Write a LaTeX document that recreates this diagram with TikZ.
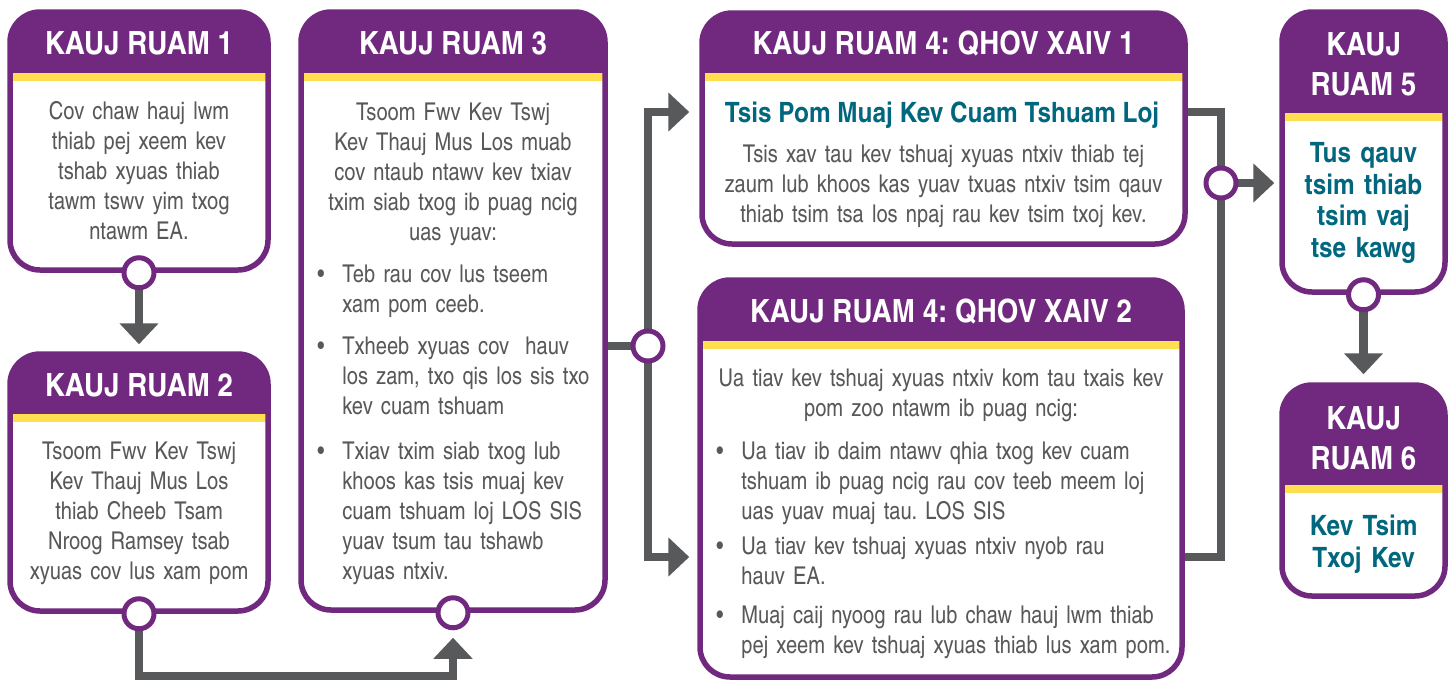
\documentclass[tikz,border=0pt]{standalone}
\usepackage{fontspec}
\setmainfont{texgyreheroscn}[Extension=.otf, UprightFont=*-regular, BoldFont=*-bold, ItalicFont=*-italic, BoldItalicFont=*-bolditalic, BoldFeatures={FakeStretch=1.06}]
\usetikzlibrary{arrows.meta,calc}
\definecolor{pur}{HTML}{71297F}
\definecolor{ylw}{HTML}{FFDE50}
\definecolor{tealtx}{HTML}{00677E}
\definecolor{txt}{HTML}{58585A}
\definecolor{con}{HTML}{58595B}
\pgfdeclarelayer{bg}
\pgfsetlayers{bg,main}
\tikzset{
  stepbox/.style={draw=pur, line width=2.75pt, rounded corners=15pt, fill=white, inner sep=0pt,
    path picture={
      \fill[pur, sharp corners] (path picture bounding box.north west) rectangle ($(path picture bounding box.north east)+(0,#1)$);
      \fill[ylw, sharp corners] ($(path picture bounding box.north west)+(0,#1)$) rectangle ($(path picture bounding box.north east)+(0,#1+8)$);
    }},
  dot/.style={circle, draw=pur, line width=2.5pt, fill=white, minimum size=15pt, inner sep=0pt},
  conn/.style={draw=con, line width=4.25pt},
  arr/.style={-{Triangle[width=19pt,length=10.5pt]}},
  hd/.style={font=\fontsize{16}{20}\selectfont\bfseries, text=white, inner sep=0pt},
  body/.style={font=\fontsize{12.25}{15}\selectfont, text=txt, inner sep=0pt, align=center},
  itm/.style={font=\fontsize{12.25}{15}\selectfont, text=txt, inner sep=0pt, align=left, anchor=north west},
  tl/.style={font=\fontsize{14}{15.75}\selectfont\bfseries, text=tealtx, inner sep=0pt, align=center},
}
\newcommand{\bul}{\llap{\textbullet\hspace{9pt}}}
\frenchspacing
\begin{document}
\begin{tikzpicture}[x=0.5pt,y=-0.5pt]
\useasboundingbox (0,0) rectangle (1450,681);
% boxes
\node[stepbox=61, minimum width=129pt, minimum height=129pt] (b1) at (139,141) {};
\node[stepbox=60, minimum width=129pt, minimum height=128.5pt] (b2) at (139,482.5) {};
\node[stepbox=61, minimum width=152pt, minimum height=299pt] (b3) at (453,311) {};
\node[stepbox=60, minimum width=241.5pt, minimum height=115.5pt] (b41) at (943.5,128.5) {};
\node[stepbox=61, minimum width=241pt, minimum height=198.5pt] (b42) at (941,478.5) {};
\node[stepbox=101, minimum width=81.5pt, minimum height=140pt] (b5) at (1363.5,152) {};
\node[stepbox=100, minimum width=81.5pt, minimum height=105.5pt] (b6) at (1363.5,490.5) {};
% circles
\node[dot] (c1) at (b1.south) {};
\node[dot] (c2) at (b2.south) {};
\node[dot] (c3) at (b3.south) {};
\node[dot] (cJ) at (648,346) {};
\node[dot] (cR) at (1221,183) {};
\node[dot] (c5) at (b5.south) {};
\path (0,112) coordinate (ytop) (0,557) coordinate (ybot) (0,676) coordinate (ylow);
% connectors
\begin{pgfonlayer}{bg}
\draw[conn,arr,shorten >=3.5pt] (c1.center) -- (b2.north);
\draw[conn,arr,shorten >=12.5pt] (c2.center) -- (c2.center |- ylow) -| (c3.center);
\draw[conn] (b3.east |- cJ) -- (cJ.center);
\draw[conn,arr,shorten >=5pt] (cJ.center) |- (b41.west |- ytop);
\draw[conn,arr,shorten >=4pt] (cJ.center) |- (b42.west |- ybot);
\draw[conn] (b41.east |- ytop) -| (cR.center) |- (b42.east |- ybot);
\draw[conn,arr,shorten >=2.5pt] (cR.center) -- (b5.west |- cR);
\draw[conn,arr,shorten >=4pt] (c5.center) -- (b6.north);
\end{pgfonlayer}
% headers
\node[hd, anchor=base] (h1) at (139,54) {KAUJ RUAM 1};
\node[hd, anchor=base] (h2) at (139,396) {KAUJ RUAM 2};
\node[hd, anchor=base] (h3) at (453,54) {KAUJ RUAM 3};
\node[hd, anchor=base] (h41) at (943.5,54) {KAUJ RUAM 4: QHOV XAIV 1};
\node[hd, anchor=base] (h42) at (941,322) {KAUJ RUAM 4: QHOV XAIV 2};
\node[hd, anchor=north, align=center] (h5) at (1363.5,32) {KAUJ\\RUAM 5};
\node[hd, anchor=north, align=center] (h6) at (1363.5,406) {KAUJ\\RUAM 6};
% bodies
\node[body, text width=120pt, anchor=north] (t1) at (139,101) {Cov chaw hauj lwm\\thiab pej xeem kev\\tshab xyuas thiab\\tawm tswv yim txog\\ntawm EA.};
\node[body, text width=125pt, anchor=north] (t2) at (139,441) {Tsoom Fwv Kev Tswj\\Kev Thauj Mus Los\\thiab Cheeb Tsam\\Nroog Ramsey tsab\\xyuas cov lus xam pom};
\node[body, text width=145pt, anchor=north] (t3) at (453,103) {Tsoom Fwv Kev Tswj\\Kev Thauj Mus Los muab\\cov ntaub ntawv kev txiav\\txim siab txog ib puag ncig\\uas yuav:};
\node[itm, text width=135pt] (t3a) at (342,265) {\bul Teb rau cov lus tseem\\xam pom ceeb.};
\node[itm, text width=135pt] (t3b) at (342,336) {\bul Txheeb xyuas cov\ \ hauv\\los zam, txo qis los sis txo\\kev cuam tshuam};
\node[itm, text width=135pt] (t3c) at (342,441) {\bul Txiav txim siab txog lub\\khoos kas tsis muaj kev\\cuam tshuam loj LOS SIS\\yuav tsum tau tshawb\\xyuas ntxiv.};
\node[tl, anchor=base] (s41) at (942,122) {Tsis Pom Muaj Kev Cuam Tshuam Loj};
\node[body, text width=235pt, anchor=north] (t41) at (943.5,145) {Tsis xav tau kev tshuaj xyuas ntxiv thiab tej\\zaum lub khoos kas yuav txuas ntxiv tsim qauv\\thiab tsim tsa los npaj rau kev tsim txoj kev.};
\node[body, text width=235pt, anchor=north] (t42) at (941,368) {Ua tiav kev tshuaj xyuas ntxiv kom tau txais kev\\pom zoo ntawm ib puag ncig:};
\node[itm, text width=225pt] (t42a) at (741,441) {\bul Ua tiav ib daim ntawv qhia txog kev cuam\\tshuam ib puag ncig rau cov teeb meem loj\\uas yuav muaj tau. LOS SIS};
\node[itm, text width=225pt] (t42b) at (741,536) {\bul Ua tiav kev tshuaj xyuas ntxiv nyob rau\\hauv EA.};
\node[itm, text width=225pt] (t42c) at (741,605) {\bul Muaj caij nyoog rau lub chaw hauj lwm thiab\\pej xeem kev tshuaj xyuas thiab lus xam pom.};
\node[tl, text width=75pt, anchor=north] (t5) at (1363.5,142) {Tus qauv\\tsim thiab\\tsim vaj\\tse kawg};
\node[tl, text width=75pt, anchor=north] (t6) at (1363.5,515) {Kev Tsim\\Txoj Kev};
\end{tikzpicture}
\end{document}
